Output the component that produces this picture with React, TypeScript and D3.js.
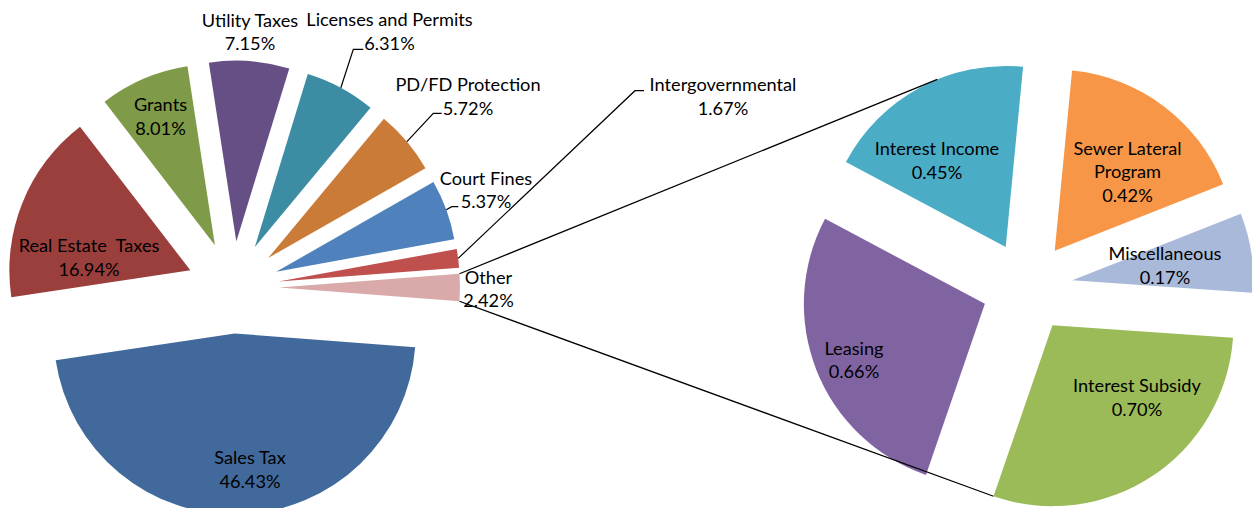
import React from 'react';
import * as d3 from 'd3';

// ---- data ----
const mainCategories = ['Sales Tax', 'Real Estate  Taxes', 'Grants', 'Utility Taxes', 'Licenses and Permits', 'PD/FD Protection', 'Court Fines', 'Intergovernmental', 'Other'];
const mainValues = [46.43, 16.94, 8.01, 7.15, 6.31, 5.72, 5.37, 1.67, 2.42];
const mainLabels = ['46.43%', '16.94%', '8.01%', '7.15%', '6.31%', '5.72%', '5.37%', '1.67%', '2.42%'];

const subCategories = ['Interest Subsidy', 'Leasing', 'Interest Income', 'Sewer Lateral\nProgram', 'Miscellaneous'];
const subValues = [0.70, 0.66, 0.45, 0.42, 0.17];
const subLabels = ['0.70%', '0.66%', '0.45%', '0.42%', '0.17%'];

// ---- styles / layout ----
const W = 1252, H = 508;
const mainColors = ['#41699B', '#9B3F3D', '#7F9A48', '#664F84', '#3C8DA3', '#CB7B38', '#4F81BD', '#C0504D', '#D9AAA9'];
const subColors = ['#9BBB59', '#8064A2', '#4BACC6', '#F79646', '#A9B9D9'];
const main = { cx: 233, cy: 287.5, r: 181, d: 46 };
const sub = { cx: 1027.3, cy: 287.1, r: 181, d: 45.6, startDeg: 4.0 };
const FONT = 'Lato, "Open Sans", sans-serif';
const FS = 18.2;
const LH = 23.5;

// label centre (x, y of first line centre)
const mainLabelPos: [number, number][] = [
  [250, 458], [89, 246], [160.5, 105], [250, 20.5], [389.5, 20], [468, 85], [486, 178.3], [723, 85], [488.5, 277.5],
];
const subLabelPos: [number, number][] = [
  [1137, 386], [854, 348.3], [937, 149], [1127.5, 148.3], [1165, 254],
];
// leader lines: slice index -> [elbowX, elbowY, endX]
const mainLeaders: Record<number, [number, number, number]> = {
  4: [353.3, 49.3, 363.3],
  5: [433.3, 113.3, 441.7],
  6: [451.7, 206.7, 458.3],
  7: [635, 90.7, 644],
};
// connector target angle on the secondary pie (screen degrees, clockwise from +x)
const connTopDeg = 247.8;

const rad = (deg: number) => (deg * Math.PI) / 180;

export default function App() {
  const total = d3.sum(mainValues);
  const otherIdx = mainValues.length - 1;
  const halfOther = (mainValues[otherIdx] / total) * Math.PI;
  const mainPie = d3.pie<number>().sort(null).startAngle(Math.PI / 2 + halfOther).endAngle(Math.PI / 2 + halfOther + 2 * Math.PI);
  const mainArcs = mainPie(mainValues);
  const subStart = Math.PI / 2 + rad(sub.startDeg);
  const subPie = d3.pie<number>().sort(null).startAngle(subStart).endAngle(subStart + 2 * Math.PI);
  const subArcs = subPie(subValues);

  const arcMain = d3.arc<any>().innerRadius(0).outerRadius(main.r);
  const arcSub = d3.arc<any>().innerRadius(0).outerRadius(sub.r);

  const off = (a: number, dist: number): [number, number] => [dist * Math.sin(a), -dist * Math.cos(a)];
  const tipOf = (p: { cx: number; cy: number; d: number }, a: any): [number, number] => {
    const mid = (a.startAngle + a.endAngle) / 2;
    const [dx, dy] = off(mid, p.d);
    return [p.cx + dx, p.cy + dy];
  };

  // connector points (Other slice: startAngle = upper corner, endAngle = lower corner)
  const otherArc = mainArcs[otherIdx];
  const oTip = tipOf(main, otherArc);
  const oTop = [oTip[0] + off(otherArc.startAngle, main.r)[0], oTip[1] + off(otherArc.startAngle, main.r)[1]];
  const oBot = [oTip[0] + off(otherArc.endAngle, main.r)[0], oTip[1] + off(otherArc.endAngle, main.r)[1]];
  const incomeArc = subArcs[2];
  const iTip = tipOf(sub, incomeArc);
  const topA = rad(connTopDeg + 90);
  const sTop = [iTip[0] + off(topA, sub.r)[0], iTip[1] + off(topA, sub.r)[1]];
  const subsidyArc = subArcs[0];
  const sTip = tipOf(sub, subsidyArc);
  const sBot = [sTip[0] + off(subsidyArc.endAngle, sub.r)[0], sTip[1] + off(subsidyArc.endAngle, sub.r)[1]];

  const renderLabel = (lines: string[], pos: [number, number], key: string) => (
    <text key={key} fontFamily={FONT} fontSize={FS} fill="#000" textAnchor="middle">
      {lines.map((ln, i) => (
        <tspan key={i} x={pos[0]} y={pos[1] + i * LH + 6.3} style={{ whiteSpace: 'pre' }}>{ln}</tspan>
      ))}
    </text>
  );

  return (
    <svg width={W} height={H} style={{ position: 'absolute', left: 0, top: 0, background: '#fff' }}>
      {mainArcs.map((a, i) => {
        const [tx, ty] = tipOf(main, a);
        return <path key={'m' + i} d={arcMain(a) as string} transform={`translate(${tx},${ty})`} fill={mainColors[i]} />;
      })}
      {subArcs.map((a, i) => {
        const [tx, ty] = tipOf(sub, a);
        return <path key={'s' + i} d={arcSub(a) as string} transform={`translate(${tx},${ty})`} fill={subColors[i]} />;
      })}

      {/* connector lines */}
      <line x1={oTop[0]} y1={oTop[1]} x2={sTop[0]} y2={sTop[1]} stroke="#000" strokeWidth={1.3} />
      <line x1={oBot[0]} y1={oBot[1]} x2={sBot[0]} y2={sBot[1]} stroke="#000" strokeWidth={1.3} />

      {/* leader lines */}
      {Object.entries(mainLeaders).map(([k, v]) => {
        const i = +k;
        const a = mainArcs[i];
        const [tx, ty] = tipOf(main, a);
        const mid = (a.startAngle + a.endAngle) / 2;
        const [ox, oy] = off(mid, main.r);
        return (
          <polyline key={'l' + i} points={`${tx + ox},${ty + oy} ${v[0]},${v[1]} ${v[2]},${v[1]}`} fill="none" stroke="#000" strokeWidth={1.2} />
        );
      })}

      {mainCategories.map((c, i) => renderLabel([...c.split('\n'), mainLabels[i]], mainLabelPos[i], 'ml' + i))}
      {subCategories.map((c, i) => renderLabel([...c.split('\n'), subLabels[i]], subLabelPos[i], 'sl' + i))}
    </svg>
  );
}
